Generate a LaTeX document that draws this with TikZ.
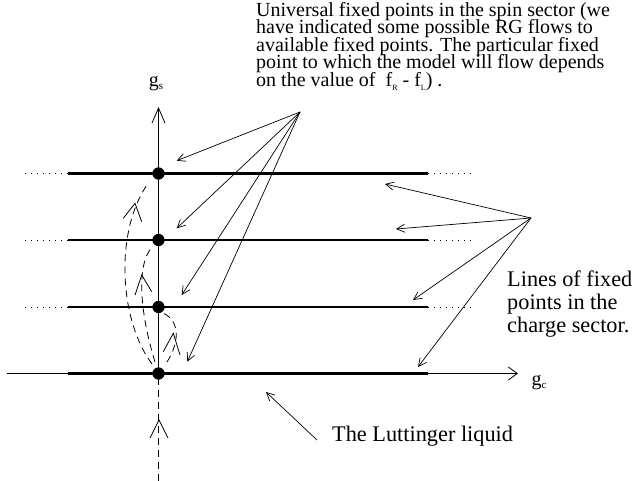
\documentclass[tikz,border=0pt]{standalone}
\usepackage{fontspec}
\setmainfont{Liberation Serif}
\usetikzlibrary{arrows.meta}
\newcommand{\lowsub}[3]{\raisebox{-#1}{\fontsize{#2}{#2}\selectfont #3}}
\tikzset{
  thinline/.style={line width=0.8pt},
  thickline/.style={line width=2.6pt},
  dotline/.style={line width=0.8pt, dash pattern=on 0.8pt off 5.2pt},
  flow/.style={line width=0.8pt, dash pattern=on 7pt off 5pt},
  vmark/.style={line width=0.8pt},
  fpdot/.style={circle, fill=black, inner sep=0pt, minimum size=12pt},
  pointer/.style={line width=0.7pt, -{Straight Barb[length=8pt,width=8pt]}},
  txt/.style={anchor=base west, inner sep=0pt},
  toptxt/.style={txt, font=\fontsize{20}{20}\selectfont},
  sidetxt/.style={txt, font=\fontsize{22.3}{22}\selectfont},
}
\begin{document}
\begin{tikzpicture}[x=1pt,y=-1pt]
\useasboundingbox (0,0) rectangle (634,481);
% fixed points on the g_s axis
\node[fpdot] (p0) at (158.5,373.5) {};
\node[fpdot] (p1) at (158.5,307) {};
\node[fpdot] (p2) at (158.5,240) {};
\node[fpdot] (p3) at (158.5,173.5) {};
% axis end points
\coordinate (ytop) at (158.5,107);
\coordinate (ybot) at (158.5,481);
\coordinate (xleft) at (7,373.5);
\coordinate (xright) at (518,373.5);
% horizontal lines
\foreach \n/\y in {0/373.5,1/307,2/240,3/173.5}{
  \coordinate (l\n) at (68,\y);
  \coordinate (r\n) at (428,\y);
}
\foreach \n/\y in {1/307,2/240,3/173.5}{
  \coordinate (dl\n) at (25,\y);
  \coordinate (dr\n) at (473,\y);
  \draw[dotline] (dl\n) -- (l\n);
  \draw[dotline] (r\n) -- (dr\n);
}
\draw[thinline, -{Straight Barb[length=9pt,width=13pt]}] (xleft) -- (xright);
\draw[thinline, -{Straight Barb[length=15pt,width=13pt]}] (p0.center) -- (ytop);
\foreach \n in {0,1,2,3}{ \draw[thickline] (l\n) -- (r\n); }
\draw[flow] (ybot) -- (p0.center);
\foreach \n in {0,1,2,3}{ \fill (p\n) circle (6pt); }
% flow marks
\draw[vmark] (150,438) -- (159,420) -- (168,438);
% RG flows
\draw[flow] (152,364) .. controls (119,320) and (114,230) .. (149,182);
\draw[flow] (155,362) .. controls (142,320) and (134,265) .. (153,246);
\draw[flow] (167,362) .. controls (178,345) and (182,322) .. (163,313);
\draw[vmark] (123.3,218.3) -- (135,203.3) -- (141.7,221.7);
\draw[vmark] (135,295) -- (141.7,275) -- (151.7,291.7);
\draw[vmark] (163.3,351.7) -- (173.3,333.3) -- (180,355);
% labels
\node[font=\fontsize{20}{20}\selectfont, inner sep=0pt] (gs) at (156,84) {g\lowsub{3pt}{11}{s}};
\node[font=\fontsize{20}{20}\selectfont, inner sep=0pt] (gc) at (539,383) {g\lowsub{3pt}{11}{c}};
% top text
\node[toptxt] (t1) at (256,16.7) {Universal fixed points in the spin sector (we};
\node[toptxt] (t2) at (256,33.5) {have indicated some possible RG flows to};
\node[toptxt] (t3) at (256,51.5) {available fixed points. The particular fixed};
\node[toptxt] (t4) at (256,68.5) {point to which the model will flow depends};
\node[toptxt] (t5) at (256,86.5) {on the value of~ f\lowsub{4pt}{8}{R} - f\lowsub{4pt}{8}{L}) .};
\coordinate (s1) at (300,112);
\coordinate (a1) at (176.7,160.7);
\coordinate (a2) at (176.7,228.3);
\coordinate (a3) at (181.7,295);
\coordinate (a4) at (187.3,361.7);
\foreach \n in {1,2,3,4}{ \draw[pointer] (s1) -- (a\n); }
% right text
\node[sidetxt] (r1) at (507,286.7) {Lines of fixed};
\node[sidetxt] (r2) at (507,309.5) {points in the};
\node[sidetxt] (r3) at (507,332.5) {charge sector.};
\coordinate (s2) at (531,218);
\coordinate (b1) at (385,184);
\coordinate (b2) at (396,229);
\coordinate (b3) at (413,300);
\coordinate (b4) at (418,367);
\foreach \n in {1,2,3,4}{ \draw[pointer] (s2) -- (b\n); }
% Luttinger liquid
\node[sidetxt] (ll) at (332,441) {The Luttinger liquid};
\coordinate (s3) at (317,440);
\coordinate (c1) at (266,392);
\draw[pointer] (s3) -- (c1);
\end{tikzpicture}
\end{document}
